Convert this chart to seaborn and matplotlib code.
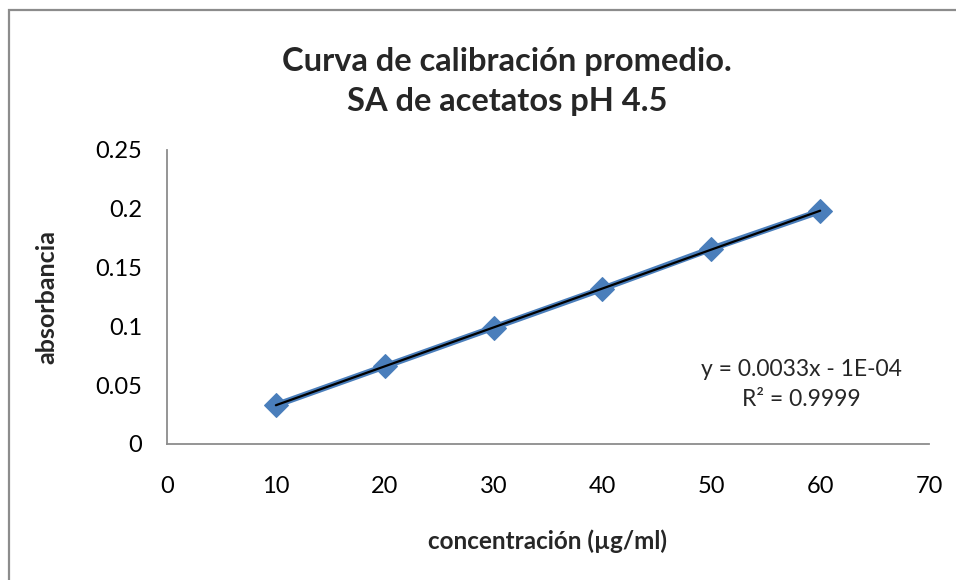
import matplotlib
matplotlib.use("Agg")
import matplotlib.pyplot as plt
import seaborn as sns
import pandas as pd
from matplotlib.patches import Rectangle

concentracion = [10, 20, 30, 40, 50, 60]
absorbancia = [0.033, 0.066, 0.099, 0.132, 0.166, 0.198]
x_ticks = [0, 10, 20, 30, 40, 50, 60, 70]
y_ticks = [0, 0.05, 0.1, 0.15, 0.2, 0.25]
y_tick_labels = ["0", "0.05", "0.1", "0.15", "0.2", "0.25"]
title_lines = ["Curva de calibración promedio.", "SA de acetatos pH 4.5"]
equation_text = "y = 0.0033x - 1E-04"
r2_text = "R² = 0.9999"

sns.set_style("white")
plt.rcParams['font.family'] = ['Lato', 'DejaVu Sans']

df = pd.DataFrame({"conc": concentracion, "abs": absorbancia})

fig = plt.figure(figsize=(9.56, 5.8), dpi=100)
ax = fig.add_axes([0.1747, 0.2345, 0.9718 - 0.1747, 0.7414 - 0.2345])

blue = "#4A7EBB"
sns.lineplot(data=df, x="conc", y="abs", ax=ax, color=blue, linewidth=4.5,
             marker="D", markersize=12, markeredgecolor=blue, markerfacecolor=blue,
             zorder=3)
sns.regplot(data=df, x="conc", y="abs", ax=ax, scatter=False, ci=None,
            line_kws=dict(color="black", linewidth=1.6, zorder=4))

ax.set_xlim(0, 70)
ax.set_ylim(0, 0.25)
ax.set_xticks(x_ticks)
ax.set_xticklabels([str(v) for v in x_ticks])
ax.set_yticks(y_ticks)
ax.set_yticklabels(y_tick_labels)
ax.tick_params(axis="both", length=0, labelsize=17, colors="black")
ax.tick_params(axis="x", pad=23)
ax.tick_params(axis="y", pad=18)

for s in ["top", "right"]:
    ax.spines[s].set_visible(False)
for s in ["left", "bottom"]:
    ax.spines[s].set_color("#8C8C8C")
    ax.spines[s].set_linewidth(1.3)
ax.grid(False)

ax.set_xlabel("")
ax.set_ylabel("")
fig.text(548 / 956, 1 - 541 / 580, "concentración (µg/ml)", ha="center", va="center",
         fontsize=17.5, fontweight="bold")
fig.text(47 / 956, 1 - 297 / 580, "absorbancia", ha="center", va="center",
         fontsize=18, fontweight="bold", rotation=90)

fig.text(507 / 956, 1 - 62 / 580, title_lines[0], ha="center", va="center",
         fontsize=23.5, fontweight="bold")
fig.text(507 / 956, 1 - 102 / 580, title_lines[1], ha="center", va="center",
         fontsize=23.5, fontweight="bold")

fig.text(801 / 956, 1 - 370 / 580, equation_text, ha="center", va="center", fontsize=16.5)
fig.text(801 / 956, 1 - 400 / 580, r2_text, ha="center", va="center", fontsize=16.5)

frame = Rectangle((9 / 956, -0.1), 1.2, (1 - 10 / 580) + 0.1, transform=fig.transFigure,
                  fill=False, edgecolor="#8C8C8C", linewidth=1.6, zorder=10)
fig.patches.append(frame)

fig.savefig("out.png", dpi=100)
